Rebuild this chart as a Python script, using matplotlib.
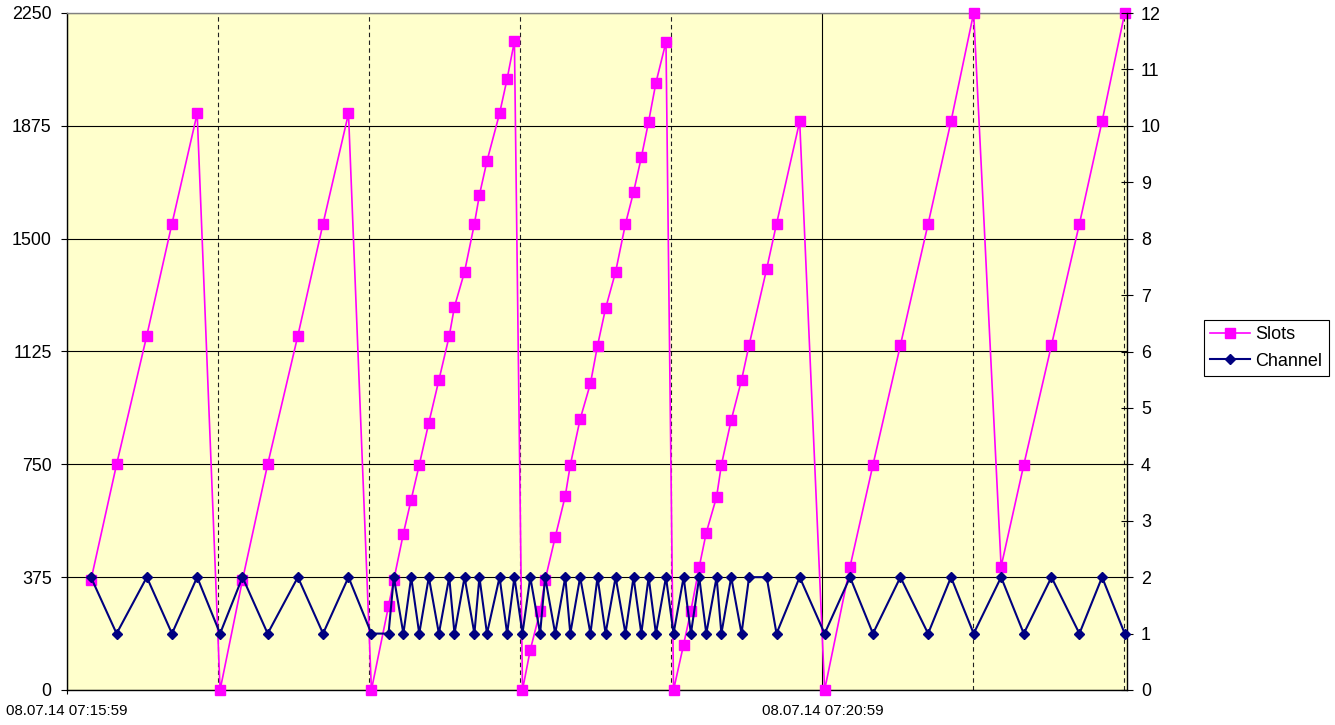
import matplotlib
matplotlib.use("Agg")
import matplotlib.pyplot as plt
from matplotlib.ticker import FixedLocator, FuncFormatter
from matplotlib.lines import Line2D
from datetime import datetime, timedelta

# ---------------- data ----------------
start_time = datetime(2014, 7, 8, 7, 15, 59)

# seconds after 08.07.14 07:15:59
seconds = [9.5, 19.7, 31.7, 41.7, 51.7, 60.8, 69.7, 79.7, 91.7, 101.7, 111.8,
           120.9, 127.7, 129.8, 133.6, 136.7, 139.9, 143.7, 147.7, 151.8, 153.9,
           157.9, 161.8, 163.8, 166.8, 171.8, 174.8, 177.7, 180.9, 184.0, 187.9,
           189.9, 193.9, 197.9, 199.9, 203.8, 207.9, 210.7, 213.9, 217.9, 221.8,
           225.0, 228.1, 231.0, 233.9, 237.9, 240.9, 244.9, 247.8, 251.1, 253.9,
           258.0, 259.9, 263.8, 267.9, 270.9, 277.9, 281.8, 291.0, 300.9, 311.0,
           320.1, 331.0, 342.0, 351.1, 360.1, 371.0, 380.0, 391.0, 402.1, 411.1,
           420.1]

slots = [365, 750, 1178, 1550, 1916, 0, 366, 750, 1178, 1550, 1916,
         0, 279, 366, 520, 633, 748, 888, 1030, 1176, 1274,
         1390, 1549, 1645, 1758, 1916, 2031, 2156, 0, 133, 262,
         366, 508, 645, 748, 900, 1019, 1144, 1268, 1390, 1549,
         1654, 1770, 1889, 2018, 2154, 0, 151, 264, 409, 523,
         642, 748, 897, 1030, 1146, 1400, 1549, 1890, 0, 410,
         748, 1146, 1549, 1890, 2250, 410, 748, 1146, 1549, 1890,
         2250]

channel = [2, 1, 2, 1, 2, 1, 2, 1, 2, 1, 2,
           1, 1, 2, 1, 2, 1, 2, 1, 2, 1,
           2, 1, 2, 1, 2, 1, 2, 1, 2, 1,
           2, 1, 2, 1, 2, 1, 2, 1, 2, 1,
           2, 1, 2, 1, 2, 1, 2, 1, 2, 1,
           2, 1, 2, 1, 2, 2, 1, 2, 1, 2,
           1, 2, 1, 2, 1, 2, 1, 2, 1, 2,
           1]

left_ticks = [0, 375, 750, 1125, 1500, 1875, 2250]
right_ticks = list(range(0, 13))
major_x = [0, 300]
minor_x = [60, 120, 180, 240, 360, 420]
series_names = ["Slots", "Channel"]

# ---------------- style ----------------
plt.rcParams["font.family"] = ["Liberation Sans", "DejaVu Sans"]
W, H = 1335, 725
fig = plt.figure(figsize=(W / 100, H / 100), dpi=100)
L, R, T, B = 67, 1127, 13, 690
ax = fig.add_axes([L / W, 1 - B / H, (R - L) / W, (B - T) / H])
ax.set_facecolor("#FFFFCC")

ax.set_xlim(0, 421)
ax.set_ylim(0, 2250)
ax.yaxis.set_major_locator(FixedLocator(left_ticks))
ax.xaxis.set_major_locator(FixedLocator(major_x))
ax.xaxis.set_minor_locator(FixedLocator(minor_x))
ax.xaxis.set_major_formatter(FuncFormatter(
    lambda v, p: (start_time + timedelta(seconds=float(v))).strftime("%d.%m.%y %H:%M:%S")))

ax.yaxis.grid(True, color="black", lw=0.8)
ax.xaxis.grid(True, which="major", color="black", lw=0.8)
ax.xaxis.grid(True, which="minor", color="#202020", lw=0.8, linestyle=(0, (4, 3)))
ax.set_axisbelow(True)

ax.tick_params(axis="y", direction="out", length=4, width=0.8, pad=7,
               labelsize=12.9, colors="black")
ax.tick_params(axis="x", which="major", direction="out", length=3, width=0.8,
               pad=7, labelsize=10.8)
ax.tick_params(axis="x", which="minor", length=0)

for s in ["left", "bottom"]:
    ax.spines[s].set_color("black")
    ax.spines[s].set_linewidth(1.0)
ax.spines["top"].set_color("#808080")
ax.spines["top"].set_linewidth(1.0)
ax.spines["right"].set_visible(False)

slots_color = "#FF00FF"
chan_color = "#000080"

ax.plot(seconds, slots, color=slots_color, lw=1.2, marker="s", ms=6.6,
        mec=slots_color, mfc=slots_color, clip_on=False, zorder=3)

ax2 = ax.twinx()
ax2.set_ylim(0, 12)
ax2.yaxis.set_major_locator(FixedLocator(right_ticks))
ax2.tick_params(axis="y", direction="inout", length=8, width=0.8, pad=6,
                labelsize=12.9)
for s in ["left", "top", "bottom"]:
    ax2.spines[s].set_visible(False)
ax2.spines["right"].set_color("black")
ax2.spines["right"].set_linewidth(1.0)
ax2.plot(seconds, channel, color=chan_color, lw=1.5, marker="D", ms=5,
         mec=chan_color, mfc=chan_color, clip_on=False, zorder=3)

handles = [
    Line2D([], [], color=slots_color, lw=1.2, marker="s", ms=6.6,
           mec=slots_color, mfc=slots_color),
    Line2D([], [], color=chan_color, lw=1.5, marker="D", ms=5,
           mec=chan_color, mfc=chan_color),
]
leg = fig.legend(handles, series_names, loc="center left",
                 bbox_to_anchor=(1204 / W, 1 - 348 / H), frameon=True,
                 fancybox=False, edgecolor="black", framealpha=1,
                 fontsize=13, handlelength=2.2, handletextpad=0.3,
                 borderpad=0.35, labelspacing=0.5, borderaxespad=0,
                 numpoints=1)
leg.get_frame().set_linewidth(0.8)

fig.savefig("out.png", dpi=100, facecolor="white")
